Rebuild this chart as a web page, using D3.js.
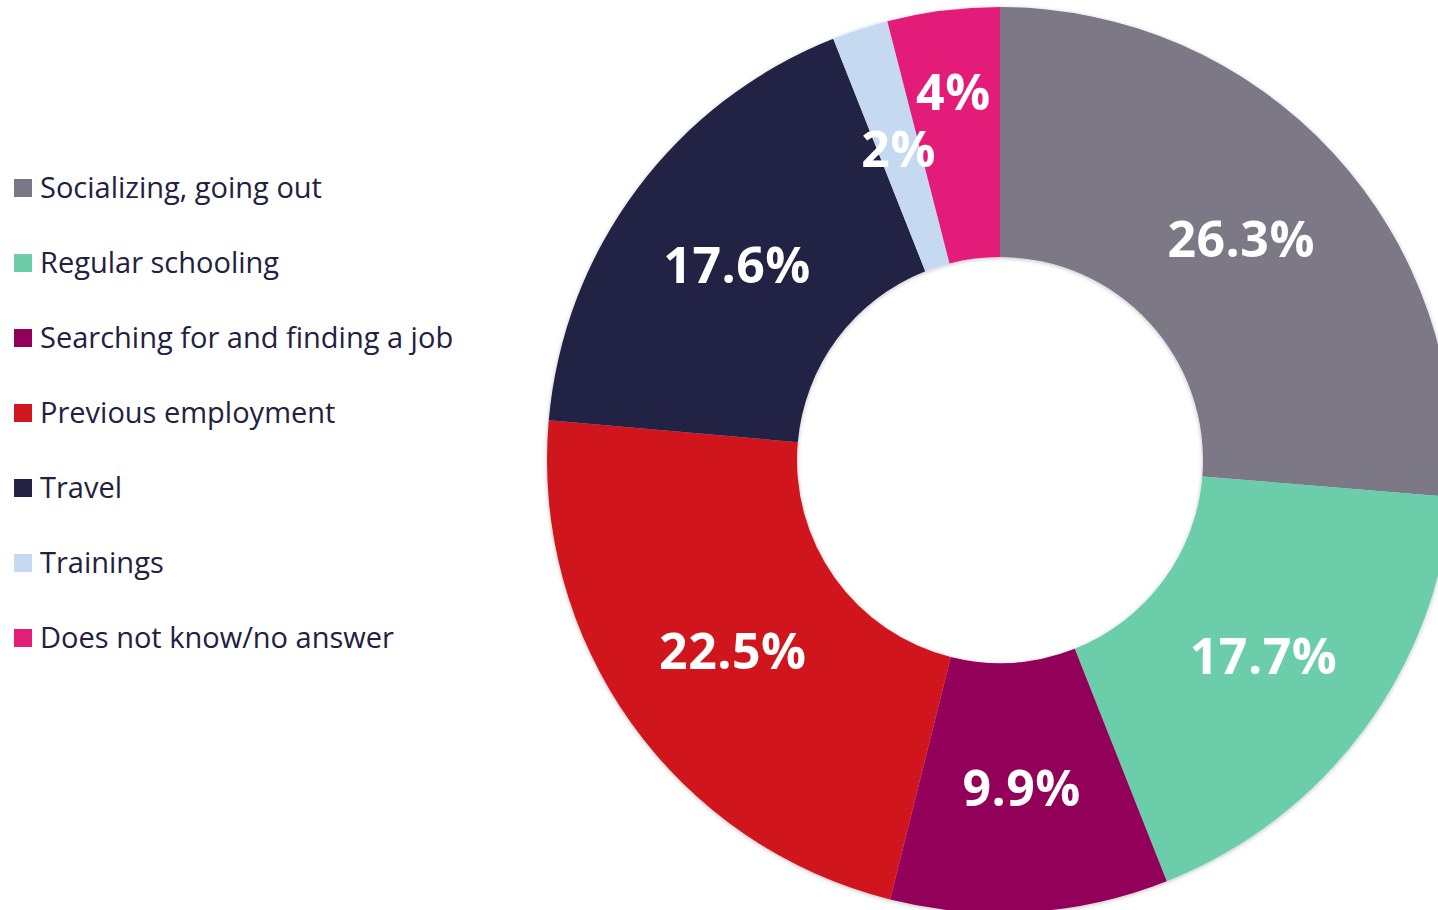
<!DOCTYPE html>
<html>
<head>
<meta charset="utf-8">
<script src="https://cdn.jsdelivr.net/npm/d3@7"></script>
<style>
  html, body { margin: 0; padding: 0; background: #ffffff; }
  svg { display: block; }
</style>
</head>
<body>
<svg id="chart" width="1438" height="910"></svg>
<script>
// Share of responses by category (percent)
const categories = [
  "Socializing, going out",
  "Regular schooling",
  "Searching for and finding a job",
  "Previous employment",
  "Travel",
  "Trainings",
  "Does not know/no answer"
];
const values = [26.3, 17.7, 9.9, 22.5, 17.6, 2, 4];
const valueLabels = ["26.3%", "17.7%", "9.9%", "22.5%", "17.6%", "2%", "4%"];
const colors = ["#7b7886", "#6ccdab", "#93005a", "#d0161f", "#232244", "#c5d9f0", "#e31e79"];

const svg = d3.select("#chart");
const cx = 1000, cy = 460;
const outerR = 453, innerR = 203;

const defs = svg.append("defs");
const shadow = defs.append("filter").attr("id", "soft").attr("x", "-10%").attr("y", "-10%").attr("width", "120%").attr("height", "120%");
shadow.append("feDropShadow").attr("dx", 0).attr("dy", 1).attr("stdDeviation", 2)
  .attr("flood-color", "#000").attr("flood-opacity", 0.25);

const data = categories.map((c, i) => ({ name: c, value: values[i], label: valueLabels[i], color: colors[i] }));

const pie = d3.pie().value(d => d.value).sort(null);
const arcs = pie(data);
const arc = d3.arc().innerRadius(innerR).outerRadius(outerR);

const g = svg.append("g").attr("transform", `translate(${cx},${cy})`);

g.append("g").attr("filter", "url(#soft)")
  .selectAll("path")
  .data(arcs)
  .join("path")
  .attr("d", arc)
  .attr("fill", d => d.data.color);

// Very thin slices get their label pushed outward so neighbours don't collide
g.selectAll("text.val")
  .data(arcs)
  .join("text")
  .attr("class", "val")
  .attr("transform", (d, i) => {
    let r = (innerR + outerR) / 2;
    const prev = arcs[i - 1];
    if (prev && (prev.endAngle - prev.startAngle) < 0.2 && (d.endAngle - d.startAngle) < 0.4) r = 372;
    const a = (d.startAngle + d.endAngle) / 2;
    return `translate(${Math.sin(a) * r},${-Math.cos(a) * r})`;
  })
  .attr("text-anchor", "middle")
  .attr("dominant-baseline", "central")
  .attr("font-family", "'Open Sans', sans-serif")
  .attr("font-weight", 700)
  .attr("font-size", 50)
  .attr("letter-spacing", 0.5)
  .attr("fill", "#ffffff")
  .text(d => d.data.label);

// Legend
const legend = svg.append("g").attr("transform", "translate(14,188)");
const rows = legend.selectAll("g")
  .data(data)
  .join("g")
  .attr("transform", (d, i) => `translate(0,${i * 75})`);

rows.append("rect")
  .attr("x", 0).attr("y", -9)
  .attr("width", 18).attr("height", 18)
  .attr("fill", d => d.color);

rows.append("text")
  .attr("x", 26).attr("y", 10)
  .attr("font-family", "'Open Sans', sans-serif")
  .attr("font-size", 29)
  .attr("fill", "#22213f")
  .text(d => d.name);
</script>
</body>
</html>
